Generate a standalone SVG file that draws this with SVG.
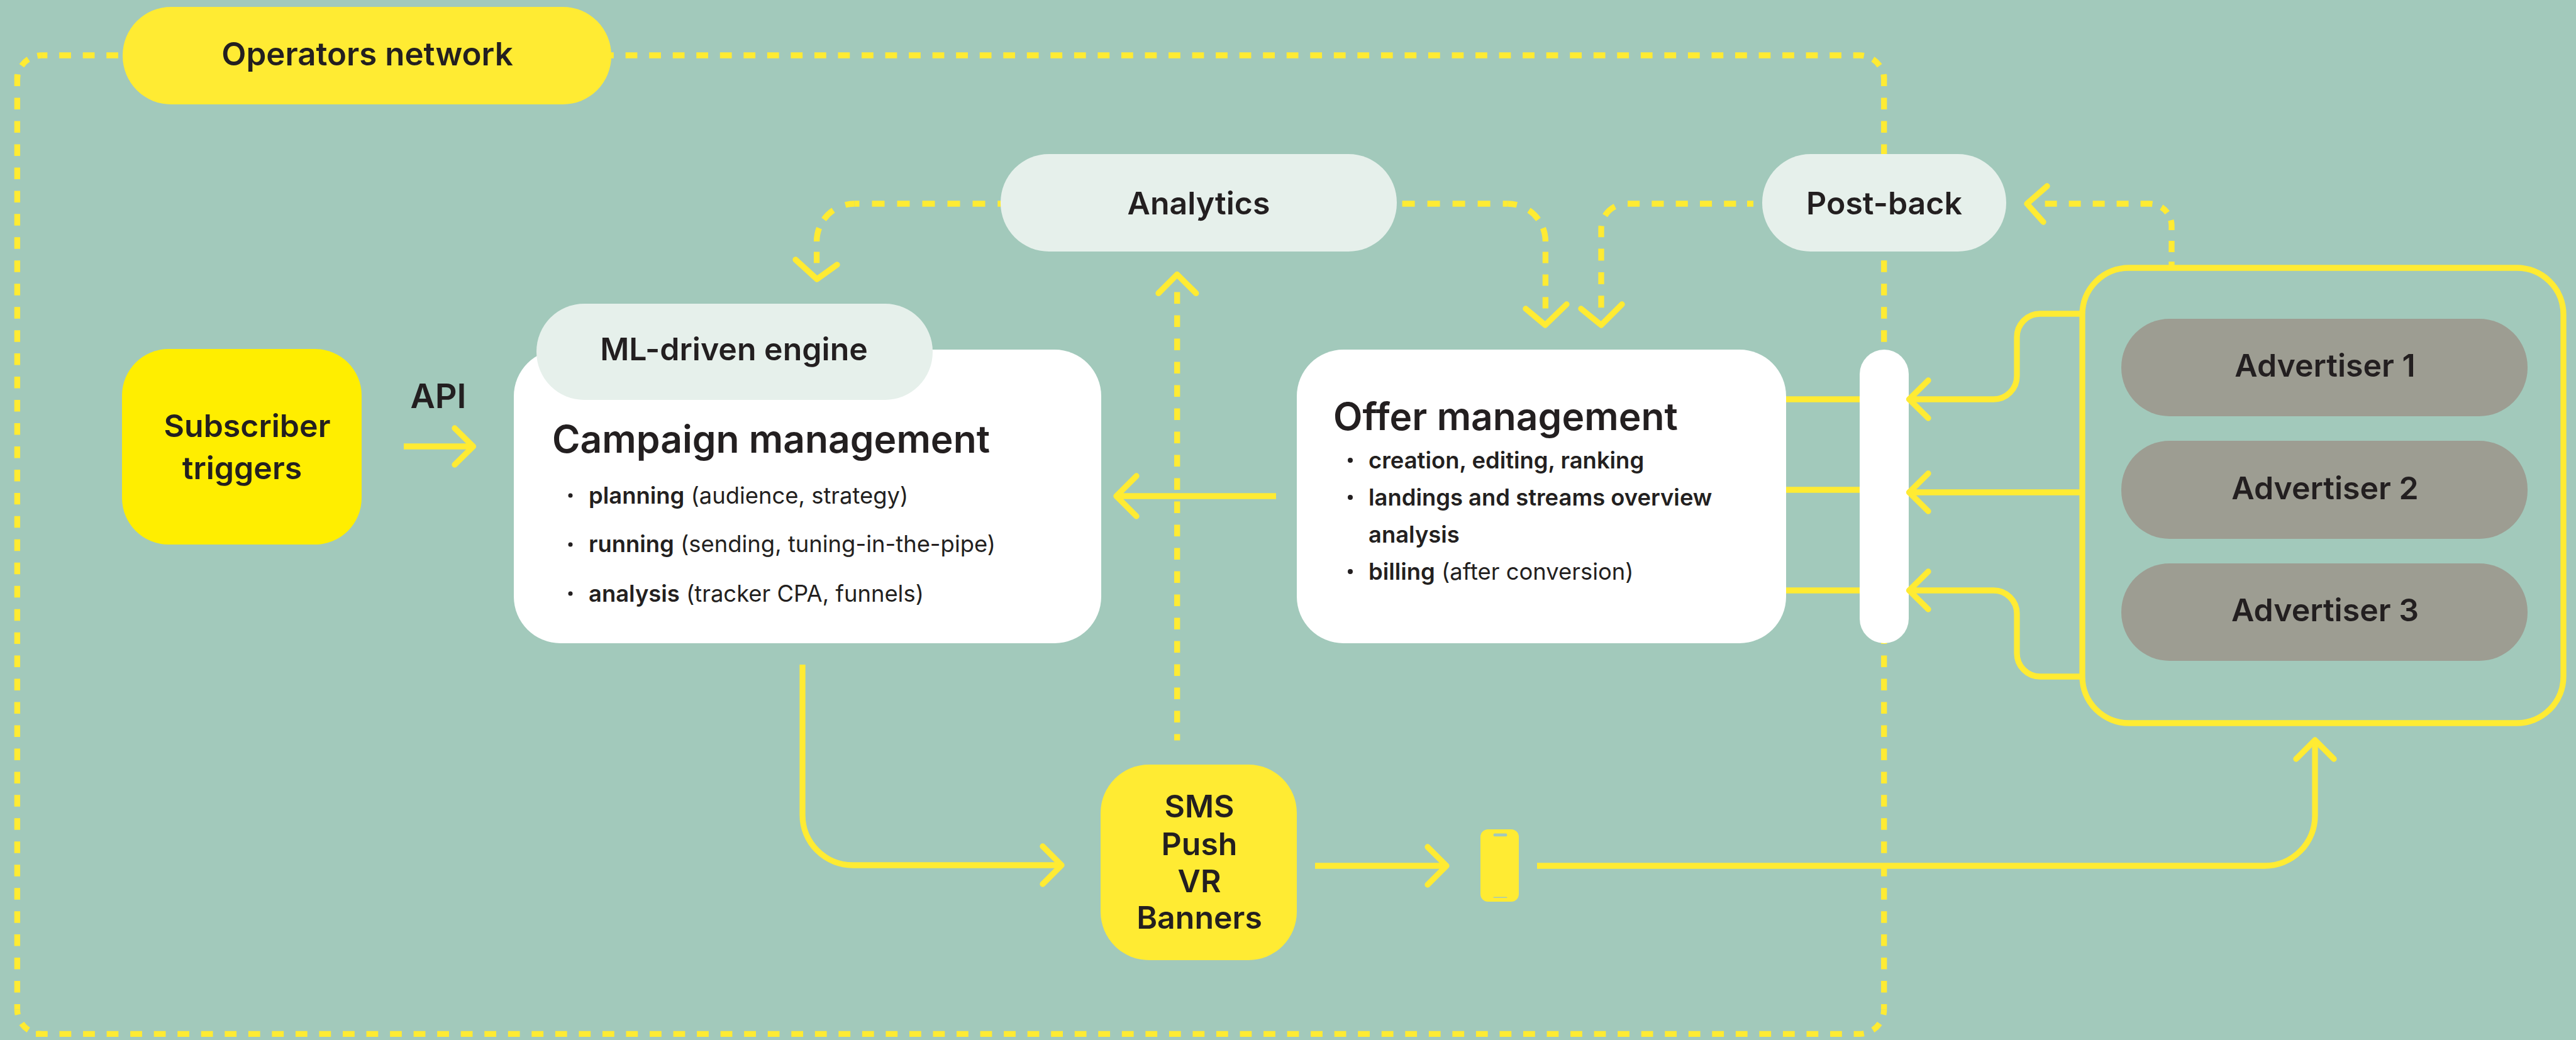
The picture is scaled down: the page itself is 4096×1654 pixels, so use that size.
<svg xmlns="http://www.w3.org/2000/svg" width="4096" height="1654" viewBox="0 0 4096 1654">
<style>
text{font-family:Inter,"Noto Sans","Liberation Sans",sans-serif;fill:#231f20;font-weight:600}
.c{text-anchor:middle}
.l{font-size:50px}
.h{font-size:60.5px}
.b{font-size:36.4px;font-weight:400}
.s{font-weight:600}
.line{fill:none;stroke:#ffeb33;stroke-width:9.3}
.dh{stroke-dasharray:18.77 18.77}
.dv{stroke-dasharray:18.48 18.48}
.k{stroke-dasharray:6.8 15.3 15 15.3 8.4}
.head{fill:none;stroke:#ffeb33;stroke-width:9.3;stroke-linecap:round;stroke-linejoin:round}
.y{fill:#ffeb33}.w{fill:#fff}.p{fill:#e6f0eb}.g{fill:#9d9d92}
.dot{fill:#231f20}
</style>
<rect width="4096" height="1654" fill="#a2c9bb"/>
<g id="operators-boundary">
<path class="line dh" d="M188,88 H66.1"/>
<path class="line k" d="M66.1,88 a38.7,38.7 0 0 0 -38.7,38.7"/>
<path class="line dv" d="M27.4,118.6 V1605.6"/>
<path class="line k" d="M66.1,1644.3 a38.7,38.7 0 0 1 -38.7,-38.7"/>
<path class="line dh" d="M57,1644.3 H2957"/>
<path class="line k" d="M2957,1644.3 a38.7,38.7 0 0 0 38.7,-38.7"/>
<path class="line dv" d="M2995.7,118.6 V1605.6"/>
<path class="line k" d="M2957,88 a38.7,38.7 0 0 1 38.7,38.7"/>
<path class="line dh" d="M957.1,88 H2957"/>
</g>
<g id="bar"><rect class="w" x="2957" y="556" width="78" height="467" rx="39"/></g>
<g id="connectors">
<path class="line" stroke-dasharray="20 20" d="M1592,324 H1586.3 M1566.5,324 H1358.6"/>
<path class="line" stroke-dasharray="14.7 21 21 15.7 22.5" d="M1358.6,324 a60,60 0 0 0 -60,60"/>
<path class="line" d="M1298.6,400.5 V418.3"/>
<path class="head" d="M1265,413 L1299,444 L1331,421"/>
<path class="line" stroke-dasharray="20 20" d="M2229.6,324 H2397.4"/>
<path class="line" stroke-dasharray="14.7 21 21 15.7 22.5" d="M2397.4,324 a60,60 0 0 1 60,60"/>
<path class="line" stroke-dasharray="18 18" d="M2457.4,400.5 V490.5"/>
<path class="head" d="M2426,491 L2457,517 L2491,484"/>
<path class="line" stroke-dasharray="19.15 19.15" d="M2788,324 H2778 M2760.4,324 H2586"/>
<path class="line" stroke-dasharray="0 18.8 21.6 17.5 4.9" d="M2586,324 a40,40 0 0 0 -40,40"/>
<path class="line" stroke-dasharray="19 18.4" d="M2546,364 V377.2 M2546,395.5 V489.3"/>
<path class="head" d="M2514,491 L2546,517 L2579,484"/>
<path class="line" stroke-dasharray="19 19" d="M3251.6,324 H3418"/>
<path class="line" stroke-dasharray="4.5 15.3 12.8 13.4 9.2" d="M3418,324 a35,35 0 0 1 35,35"/>
<path class="line" d="M3453,359 V366 M3453,383 V401 M3453,416 V423"/>
<path class="head" d="M3255,296 L3223,324 L3249,353"/>
<path class="line" stroke-dasharray="18.5 18.5" d="M1871.7,464.4 V1177.6"/>
<path class="head" d="M1842,466.4 L1871.7,436.5 L1901.8,466.4"/>
<path class="line" d="M642,710 H750"/>
<path class="head" d="M723,681 L752.5,710 L723,739"/>
<path class="line" d="M2029,789 H1780"/>
<path class="head" d="M1807,757 L1775,789 L1807,821"/>
<path class="line" d="M2840,635 H2957 M2840,779 H2957 M2840,939 H2957"/>
<path class="line" d="M3311,499 H3244 a37,37 0 0 0 -37,37 V598 a37,37 0 0 1 -37,37 H3040"/>
<path class="head" d="M3066,605 L3035.5,635 L3066,665"/>
<path class="line" d="M3311,783 H3040"/>
<path class="head" d="M3066,753 L3035.5,783 L3066,813"/>
<path class="line" d="M3311,1076 H3244 a37,37 0 0 1 -37,-37 V976 a37,37 0 0 0 -37,-37 H3040"/>
<path class="head" d="M3066,909 L3035.5,939 L3066,969"/>
<path class="line" d="M1276,1057 V1296 a80,80 0 0 0 80,80 H1685"/>
<path class="head" d="M1658,1346 L1688,1376 L1658,1406"/>
<path class="line" d="M2091,1377 H2296"/>
<path class="head" d="M2270,1347 L2300,1377 L2270,1407"/>
<path class="line" d="M2444,1377 H3601 a80,80 0 0 0 80,-80 V1182"/>
<path class="head" d="M3651,1207 L3681,1177 L3711,1207"/>
</g>
<g id="operators-network"><rect class="y" x="195" y="11" width="777" height="155" rx="77"/><text class="c" font-size="51" x="584" y="104">Operators network</text></g>
<g id="subscriber-triggers"><rect x="194" y="555" width="381" height="311" rx="74" fill="#ffee00"/><text class="l c" x="393" y="695">Subscriber</text><text class="l c" x="385" y="762">triggers</text></g>
<g id="api"><text class="c" font-size="54" x="697" y="649">API</text></g>
<g id="campaign-management"><rect class="w" x="817" y="556" width="934" height="467" rx="74"/>
<text class="h" x="878" y="720">Campaign management</text>
<circle class="dot" cx="907" cy="788" r="3.5"/><text class="b" x="936" y="801"><tspan class="s">planning</tspan> (audience, strategy)</text>
<circle class="dot" cx="907" cy="866" r="3.5"/><text class="b" x="936" y="878"><tspan class="s">running</tspan> (sending, tuning-in-the-pipe)</text>
<circle class="dot" cx="907" cy="944" r="3.5"/><text class="b" x="936" y="957"><tspan class="s">analysis</tspan> (tracker CPA, funnels)</text></g>
<g id="ml-driven-engine"><rect class="p" x="853" y="483" width="630" height="153" rx="76"/><text class="l c" x="1167" y="573">ML-driven engine</text></g>
<g id="analytics"><rect class="p" x="1591" y="245" width="630" height="155" rx="77"/><text class="l c" x="1906" y="341">Analytics</text></g>
<g id="post-back"><rect class="p" x="2802" y="245" width="388" height="155" rx="77"/><text class="l c" x="2996" y="341">Post-back</text></g>
<g id="offer-management"><rect class="w" x="2062" y="556" width="778" height="467" rx="74"/>
<text class="h" x="2120" y="684">Offer management</text>
<circle class="dot" cx="2147" cy="732" r="4"/><text class="b s" x="2176" y="745">creation, editing, ranking</text>
<circle class="dot" cx="2147" cy="791" r="4"/><text class="b s" x="2176" y="804">landings and streams overview</text>
<text class="b s" x="2176" y="863">analysis</text>
<circle class="dot" cx="2147" cy="909" r="4"/><text class="b" x="2176" y="922"><tspan class="s">billing</tspan> (after conversion)</text></g>
<g id="advertisers"><rect x="3311" y="426" width="765" height="724" rx="74" fill="none" stroke="#ffeb33" stroke-width="9.3"/></g>
<g id="advertiser-1"><rect class="g" x="3373" y="507" width="646" height="155" rx="77"/><text class="l c" x="3697" y="599">Advertiser 1</text></g>
<g id="advertiser-2"><rect class="g" x="3373" y="701" width="646" height="156" rx="77"/><text class="l c" x="3697" y="794">Advertiser 2</text></g>
<g id="advertiser-3"><rect class="g" x="3373" y="896" width="646" height="155" rx="77"/><text class="l c" x="3697" y="988">Advertiser 3</text></g>
<g id="channels"><rect class="y" x="1750" y="1216" width="312" height="311" rx="77"/>
<text class="l c" x="1907" y="1300">SMS</text><text class="l c" x="1907" y="1360">Push</text><text class="l c" x="1907" y="1419">VR</text><text class="l c" x="1907" y="1477">Banners</text></g>
<g id="phone"><rect class="y" x="2354" y="1319" width="61" height="115" rx="12"/><rect x="2374.5" y="1325.6" width="22" height="4.6" rx="2.3" fill="#a2c9bb"/><rect x="2374.5" y="1426.4" width="22" height="1.7" rx=".8" fill="#a2c9bb"/></g>
</svg>
